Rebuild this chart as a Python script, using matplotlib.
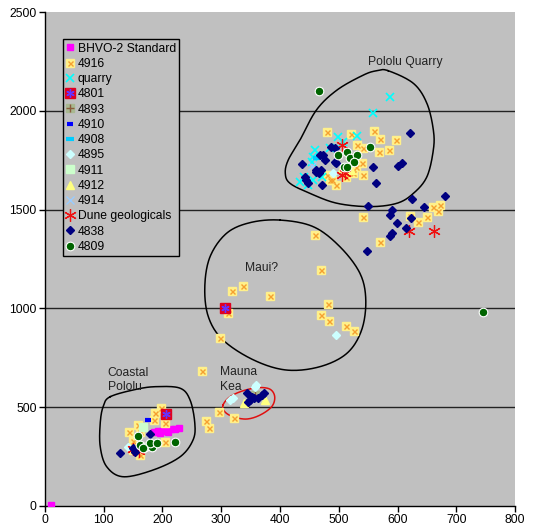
import numpy as np
import matplotlib
matplotlib.use("Agg")
import matplotlib.pyplot as plt
from matplotlib.lines import Line2D
from matplotlib.legend_handler import HandlerTuple

plt.rcParams['font.family'] = ['Liberation Sans', 'DejaVu Sans']

# ---- sample data (x, y) ----
bhvo_x = [10, 185, 192, 200, 208, 215, 222, 228, 195, 210]
bhvo_y = [5, 375, 378, 382, 385, 390, 392, 395, 368, 375]

s4916_x = [480, 521, 560, 570, 597, 586, 568, 539, 525, 513, 496, 488, 480, 542, 460, 570,
           621, 635, 650, 661, 672, 669, 469, 531, 542, 522, 530, 485, 542,
           319, 337, 383, 482, 470, 484, 512, 526, 312, 298, 268,
           297, 274, 279, 322, 187, 197, 185, 205, 204, 159, 162, 143, 149, 149, 162]
s4916_y = [1894, 1881, 1898, 1857, 1852, 1802, 1793, 1734, 1684, 1666, 1624, 1650, 1675, 1464, 1372, 1338,
           1469, 1439, 1464, 1515, 1524, 1494, 1194, 1827, 1810, 1692, 1717, 1650, 1675,
           1088, 1113, 1063, 1021, 967, 936, 911, 887, 975, 849, 683,
           474, 430, 393, 444, 469, 494, 435, 418, 325, 410, 376, 376, 330, 283, 258]

quarry_x = [588, 558, 499, 531, 508, 485, 460, 457, 454, 440, 448, 434, 457, 471]
quarry_y = [2068, 1990, 1869, 1872, 1844, 1810, 1802, 1768, 1742, 1667, 1624, 1641, 1650, 1667]

s4801_x = [307, 206]
s4801_y = [1002, 466]

s4893_x = [358]
s4893_y = [562]

s4910_x = [176]
s4910_y = [435]

s4908_x = [463]
s4908_y = [1760]

s4895_x = [320, 315, 360, 357, 496, 491, 142]
s4895_y = [545, 536, 612, 604, 865, 1684, 300]

s4911_x = [167]
s4911_y = [398]

s4912_x = [338, 375, 505, 520]
s4912_y = [520, 536, 1710, 1700]

s4914_x = [455]
s4914_y = [1720]

dune_x = [620, 662, 505, 511, 505, 150, 160]
dune_y = [1393, 1393, 1827, 1684, 1675, 290, 280]

s4838_x = [621, 437, 486, 494, 468, 477, 495, 462, 470, 442, 445, 448, 471, 558, 563, 601, 607,
           549, 625, 645, 680, 587, 590, 599, 623, 587, 590, 614, 548, 474, 494, 462, 467,
           127, 150, 153, 179,
           343, 352, 349, 355, 369, 372, 363, 346]
s4838_y = [1889, 1731, 1818, 1810, 1776, 1751, 1734, 1692, 1700, 1666, 1650, 1633, 1624, 1714, 1633, 1720, 1737,
           1520, 1555, 1515, 1569, 1473, 1498, 1434, 1456, 1366, 1380, 1405, 1290, 1776, 1742, 1700, 1684,
           270, 292, 275, 364,
           570, 553, 536, 545, 562, 570, 545, 528]

s4809_x = [467, 553, 498, 514, 519, 531, 526, 509, 514, 745,
           158, 221, 162, 170, 182, 179, 190, 167]
s4809_y = [2102, 1818, 1776, 1793, 1759, 1776, 1742, 1717, 1714, 980,
           356, 325, 309, 300, 300, 317, 320, 292]

# ---- hand-drawn group outlines ----
pololu_outline = [(584, 2203), (627, 2139), (650, 2038), (661, 1903), (661, 1802), (650, 1666),
                  (627, 1582), (599, 1532), (553, 1515), (497, 1532), (451, 1582), (417, 1633),
                  (409, 1684), (414, 1751), (434, 1852), (462, 2004), (497, 2105), (542, 2181),
                  (565, 2203)]
maui_outline = [(400, 1447), (457, 1413), (502, 1312), (536, 1178), (546, 1043), (539, 891),
                (514, 773), (468, 705), (411, 688), (355, 739), (303, 840), (278, 958),
                (272, 1110), (281, 1262), (309, 1380), (349, 1434)]
coastal_outline = [(111, 553), (156, 591), (190, 604), (230, 596), (247, 536), (255, 419),
                   (252, 334), (230, 249), (184, 182), (133, 148), (105, 199), (94, 300),
                   (94, 419), (99, 503)]
kea_outline = [(303, 511), (315, 553), (337, 583), (363, 599), (383, 591), (391, 553),
               (386, 503), (366, 460), (343, 440), (320, 452), (306, 477)]


def closed_curve(pts, n=20):
    # closed Catmull-Rom spline through the outline points
    p = np.array(pts, dtype=float)
    m = len(p)
    out = []
    t = np.linspace(0, 1, n, endpoint=False)[:, None]
    for i in range(m):
        p0, p1, p2, p3 = p[i - 1], p[i], p[(i + 1) % m], p[(i + 2) % m]
        seg = 0.5 * ((2 * p1) + (-p0 + p2) * t + (2 * p0 - 5 * p1 + 4 * p2 - p3) * t ** 2
                     + (-p0 + 3 * p1 - 3 * p2 + p3) * t ** 3)
        out.append(seg)
    out = np.vstack(out)
    return np.vstack([out, out[:1]])


fig = plt.figure(figsize=(5.48, 5.31), dpi=100)
ax = fig.add_axes([0.0821, 0.0471, 0.8577, 0.9303])
ax.set_facecolor('#C0C0C0')

for v in [500, 1000, 1500, 2000]:
    ax.axhline(v, color='#222222', lw=1.0, zorder=1)

for pts, col in [(pololu_outline, 'black'), (maui_outline, 'black'),
                 (coastal_outline, 'black'), (kea_outline, '#E01010')]:
    c = closed_curve(pts)
    ax.plot(c[:, 0], c[:, 1], color=col, lw=1.1, zorder=2)

yellow = '#FFF08A'
orange = '#F5A030'

ax.plot(bhvo_x, bhvo_y, 's', ms=5, color='#FF00FF', mec='#FF00FF', zorder=3)
ax.plot(s4916_x, s4916_y, 's', ms=5.4, mfc=yellow, mec=yellow, zorder=4)
ax.plot(s4916_x, s4916_y, 'x', ms=3.6, color=orange, mew=1.0, zorder=4)
ax.plot(quarry_x, quarry_y, 'x', ms=6, color='#00FFFF', mew=1.2, zorder=5)
ax.plot(s4801_x, s4801_y, 's', ms=7, mfc='#E00020', mec='#E00020', zorder=6)
ax.plot(s4801_x, s4801_y, marker=(6, 2, 0), ls='none', ms=6, color='#6633FF', mew=1.0, zorder=6)
ax.plot(s4893_x, s4893_y, 's', ms=6, mfc='#A8B890', mec='#A8B890', zorder=7)
ax.plot(s4893_x, s4893_y, '+', ms=6, color='#8B5A3C', mew=1.0, zorder=7)
ax.plot(s4910_x, s4910_y, '_', ms=5, color='#0000FF', mew=3, zorder=8)
ax.plot(s4908_x, s4908_y, '_', ms=6, color='#00CCFF', mew=3, zorder=9)
ax.plot(s4895_x, s4895_y, 'D', ms=4.2, mfc='#CCFFFF', mec='#CCFFFF', zorder=10)
ax.plot(s4911_x, s4911_y, 's', ms=6, mfc='#CCFFCC', mec='#CCFFCC', zorder=11)
ax.plot(s4912_x, s4912_y, '^', ms=6, mfc='#FFFF80', mec='#FFFF80', zorder=12)
ax.plot(s4914_x, s4914_y, 'x', ms=6, color='#99CCFF', mew=1.0, zorder=13)
ax.plot(dune_x, dune_y, marker=(6, 2, 0), ls='none', ms=9, color='#EE1111', mew=0.9, zorder=14)
ax.plot(s4838_x, s4838_y, 'D', ms=4.1, mfc='#000080', mec='#000080', zorder=15)
ax.plot(s4809_x, s4809_y, 'o', ms=6.2, mfc='#006400', mec='white', mew=0.8, zorder=16)

ax.text(613, 2247, 'Pololu Quarry', fontsize=8.7, ha='center', va='center', color='#222222')
ax.text(368, 1204, 'Maui?', fontsize=8.7, ha='center', va='center', color='#222222')
ax.text(107, 638, 'Coastal\nPololu', fontsize=8.7, ha='left', va='center', color='#222222',
        linespacing=1.25)
ax.text(298, 640, 'Mauna\nKea', fontsize=8.7, ha='left', va='center', color='#222222',
        linespacing=1.25)

ax.set_xlim(0, 800)
ax.set_ylim(0, 2500)
ax.set_xticks(np.arange(0, 801, 100))
ax.set_yticks(np.arange(0, 2501, 500))
for side in ['top', 'right']:
    ax.spines[side].set_visible(False)
for side in ['left', 'bottom']:
    ax.spines[side].set_color('black')
    ax.spines[side].set_linewidth(1.0)
ax.tick_params(direction='out', length=4, width=1, labelsize=8.7, pad=2, colors='black')

handles = [
    Line2D([], [], ls='none', marker='s', ms=5, color='#FF00FF'),
    (Line2D([], [], ls='none', marker='s', ms=5.4, mfc=yellow, mec=yellow),
     Line2D([], [], ls='none', marker='x', ms=3.6, color=orange, mew=1.0)),
    Line2D([], [], ls='none', marker='x', ms=6, color='#00FFFF', mew=1.2),
    (Line2D([], [], ls='none', marker='s', ms=7, mfc='#E00020', mec='#E00020'),
     Line2D([], [], ls='none', marker=(6, 2, 0), ms=6, color='#6633FF', mew=1.0)),
    (Line2D([], [], ls='none', marker='s', ms=6, mfc='#A8B890', mec='#A8B890'),
     Line2D([], [], ls='none', marker='+', ms=6, color='#8B5A3C', mew=1.0)),
    Line2D([], [], ls='none', marker='_', ms=5, color='#0000FF', mew=3),
    Line2D([], [], ls='none', marker='_', ms=6, color='#00CCFF', mew=3),
    Line2D([], [], ls='none', marker='D', ms=4.2, color='#CCFFFF'),
    Line2D([], [], ls='none', marker='s', ms=6, color='#CCFFCC'),
    Line2D([], [], ls='none', marker='^', ms=6, color='#FFFF80'),
    Line2D([], [], ls='none', marker='x', ms=6, color='#99CCFF', mew=1.0),
    Line2D([], [], ls='none', marker=(6, 2, 0), ms=9, color='#EE1111', mew=0.9),
    Line2D([], [], ls='none', marker='D', ms=4.1, color='#000080'),
    Line2D([], [], ls='none', marker='o', ms=6.2, mfc='#006400', mec='white', mew=0.8),
]
labels = ['BHVO-2 Standard', '4916', 'quarry', '4801', '4893', '4910', '4908', '4895',
          '4911', '4912', '4914', 'Dune geologicals', '4838', '4809']

leg = ax.legend(handles, labels, loc='upper left', bbox_to_anchor=(0.038, 0.945),
                borderaxespad=0, fontsize=8.7, frameon=True, fancybox=False,
                edgecolor='black', facecolor='#C0C0C0', framealpha=1,
                handlelength=0.7, handletextpad=0.25, labelspacing=0.27, borderpad=0.28,
                handler_map={tuple: HandlerTuple(ndivide=1)})
leg.get_frame().set_linewidth(1.0)
leg.set_zorder(20)

fig.savefig('out.png', dpi=100)
